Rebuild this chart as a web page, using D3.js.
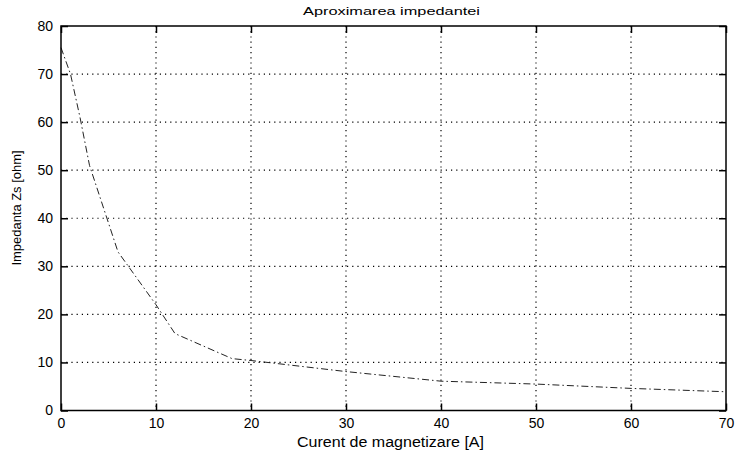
<!DOCTYPE html>
<html><head><meta charset="utf-8">
<script src="https://cdn.jsdelivr.net/npm/d3@7"></script>
<style>body{margin:0;background:#fff}svg{display:block}text{font-family:"Liberation Sans",Arial,sans-serif;fill:#000}</style>
</head><body><svg id="c" width="735" height="455"></svg>
<script>
const current = [0, 1, 2, 3, 6, 10, 12, 18, 20, 30, 40, 50, 60, 70];
const impedance = [75.5, 70, 61, 51, 33, 22, 16, 10.8, 10.4, 8.1, 6.1, 5.5, 4.6, 3.9];
const xTicks = [0, 10, 20, 30, 40, 50, 60, 70];
const yTicks = [0, 10, 20, 30, 40, 50, 60, 70, 80];
const title = "Aproximarea impedantei";
const xLabel = "Curent de magnetizare [A]";
const yLabel = "Impedanta Zs [ohm]";

const svg = d3.select("#c");
const L = 61, R = 726, T = 26, B = 410.5;
const x = d3.scaleLinear().domain([0, 70]).range([L, R]);
const y = d3.scaleLinear().domain([0, 80]).range([B, T]);

// grid
const g = svg.append("g");
g.selectAll(".gx").data(xTicks.slice(1, -1)).enter().append("line")
  .attr("x1", d => x(d)).attr("x2", d => x(d)).attr("y1", T).attr("y2", B)
  .attr("stroke", "#000").attr("stroke-width", 1.2).attr("stroke-dasharray", "1.2,4");
g.selectAll(".gy").data(yTicks.slice(1, -1)).enter().append("line")
  .attr("y1", d => y(d)).attr("y2", d => y(d)).attr("x1", L).attr("x2", R)
  .attr("stroke", "#000").attr("stroke-width", 1.2).attr("stroke-dasharray", "1.2,4");

// curve
const line = d3.line().x((d, i) => x(current[i])).y(d => y(d));
svg.append("path").datum(impedance).attr("d", line)
  .attr("fill", "none").attr("stroke", "#222").attr("stroke-width", 1)
  .attr("stroke-dasharray", "7,3,1.5,3");

// axes (ticks inward on all sides)
const tl = 7;
svg.append("g").attr("transform", `translate(0,${B})`)
  .call(d3.axisBottom(x).tickValues(xTicks).tickSize(-tl).tickPadding(8))
  .call(a => a.select(".domain").remove());
svg.append("g").attr("transform", `translate(0,${T})`)
  .call(d3.axisTop(x).tickValues(xTicks).tickSize(-tl).tickFormat(""))
  .call(a => a.select(".domain").remove());
svg.append("g").attr("transform", `translate(${L},0)`)
  .call(d3.axisLeft(y).tickValues(yTicks).tickSize(-tl).tickPadding(8))
  .call(a => a.select(".domain").remove());
svg.append("g").attr("transform", `translate(${R},0)`)
  .call(d3.axisRight(y).tickValues(yTicks).tickSize(-tl).tickFormat(""))
  .call(a => a.select(".domain").remove());
svg.selectAll(".tick line").attr("stroke", "#000").attr("stroke-width", 1.5);
svg.selectAll(".tick text").attr("font-size", 14).attr("font-family", "Liberation Sans, Arial, sans-serif").attr("fill", "#000");

svg.append("rect").attr("x", L).attr("y", T).attr("width", R - L).attr("height", B - T)
  .attr("fill", "none").attr("stroke", "#000").attr("stroke-width", 1.5);

svg.append("text").attr("x", (L + R) / 2 - 2).attr("y", 15).attr("text-anchor", "middle")
  .attr("font-size", 11).attr("textLength", 177).attr("lengthAdjust", "spacingAndGlyphs").text(title);
svg.append("text").attr("x", 390.5).attr("y", 447).attr("text-anchor", "middle")
  .attr("font-size", 14).attr("textLength", 187).attr("lengthAdjust", "spacingAndGlyphs").text(xLabel);
svg.append("text").attr("transform", "translate(21,208) rotate(-90)").attr("text-anchor", "middle")
  .attr("font-size", 12).attr("textLength", 115).attr("lengthAdjust", "spacingAndGlyphs").text(yLabel);
</script></body></html>
